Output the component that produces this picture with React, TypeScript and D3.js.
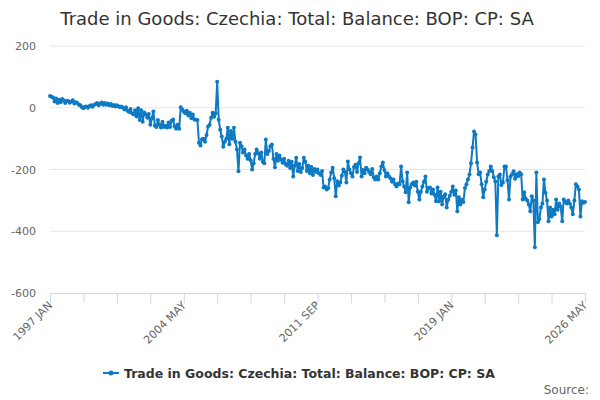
import React from "react";
import * as d3 from "d3";

const title = "Trade in Goods: Czechia: Total: Balance: BOP: CP: SA";
const seriesName = "Trade in Goods: Czechia: Total: Balance: BOP: CP: SA";

const monthNames = ["JAN", "FEB", "MAR", "APR", "MAY", "JUN", "JUL", "AUG", "SEP", "OCT", "NOV", "DEC"];
const firstYear = 1997;

// monthly values, one array per year
const y1997 = [38, 36, 33, 20, 30, 15, 26, 18, 28, 24, 15, 22];
const y1998 = [22, 16, 20, 24, 14, 18, 15, 10, 8, 2, -2, 3];
const y1999 = [4, 0, 6, 8, 3, 10, 12, 15, 8, 13, 17, 10];
const y2000 = [15, 10, 14, 8, 12, 6, 9, 4, 8, 5, 2, 4];
const y2001 = [0, -6, 2, -10, -14, -4, -18, -22, -8, -28, -2, -40];
const y2002 = [-8, -45, -15, -22, -32, -20, -55, -35, -12, -58, -62, -40];
const y2003 = [-55, -64, -45, -62, -58, -64, -48, -62, -42, -38, -60, -68];
const y2004 = [-55, -68, 2, -6, -12, -18, -10, -25, -16, -34, -22, -38];
const y2005 = [-39, -40, -113, -122, -102, -100, -110, -88, -61, -55, -32, -16];
const y2006 = [-29, -18, 84, -39, -71, -93, -126, -110, -100, -65, -118, -75];
const y2007 = [-100, -65, -110, -135, -206, -113, -125, -145, -135, -155, -165, -150];
const y2008 = [-170, -200, -180, -150, -135, -147, -165, -145, -175, -180, -103, -150];
const y2009 = [-140, -125, -119, -165, -193, -150, -172, -155, -168, -178, -165, -182];
const y2010 = [-188, -172, -195, -175, -223, -188, -162, -205, -182, -208, -195, -162];
const y2011 = [-175, -205, -188, -212, -192, -218, -198, -208, -200, -212, -218, -205];
const y2012 = [-258, -255, -265, -261, -232, -210, -194, -228, -287, -238, -252, -242];
const y2013 = [-220, -200, -208, -242, -174, -200, -212, -223, -192, -185, -208, -180];
const y2014 = [-161, -223, -202, -212, -194, -200, -208, -215, -198, -225, -232, -223];
const y2015 = [-232, -212, -190, -177, -202, -223, -212, -222, -228, -240, -232, -248];
const y2016 = [-255, -245, -248, -190, -238, -255, -274, -210, -306, -258, -248, -242];
const y2017 = [-252, -240, -272, -297, -272, -255, -240, -223, -272, -260, -258, -278];
const y2018 = [-265, -282, -303, -258, -303, -272, -313, -288, -280, -323, -298, -285];
const y2019 = [-272, -255, -282, -268, -335, -290, -313, -298, -305, -260, -248, -232];
const y2020 = [-216, -180, -129, -77, -87, -177, -215, -210, -248, -290, -265, -240];
const y2021 = [-216, -205, -190, -205, -225, -239, -413, -223, -216, -250, -242, -190];
const y2022 = [-190, -235, -297, -223, -215, -206, -230, -215, -222, -210, -215, -297];
const y2023 = [-274, -295, -300, -313, -335, -287, -300, -452, -210, -371, -360, -323];
const y2024 = [-310, -232, -275, -300, -368, -323, -352, -330, -345, -297, -330, -310];
const y2025 = [-320, -368, -297, -305, -310, -300, -310, -323, -345, -300, -248, -255];
const y2026 = [-265, -352, -303, -308, -305];

const values = [
  ...y1997, ...y1998, ...y1999, ...y2000, ...y2001, ...y2002, ...y2003, ...y2004,
  ...y2005, ...y2006, ...y2007, ...y2008, ...y2009, ...y2010, ...y2011, ...y2012,
  ...y2013, ...y2014, ...y2015, ...y2016, ...y2017, ...y2018, ...y2019, ...y2020,
  ...y2021, ...y2022, ...y2023, ...y2024, ...y2025, ...y2026,
];

const categories = values.map(
  (_, i) => `${firstYear + Math.floor(i / 12)} ${monthNames[i % 12]}`
);

const yTicks = [200, 0, -200, -400, -600];
const tickStep = 22; // minor ticks
const labelStep = 88; // labelled ticks

const width = 600;
const height = 400;
const left = 50;
const right = 585;
const top = 46;
const bottom = 293;
const color = "#0d7ac3";
const font = "'DejaVu Sans', 'Lucida Grande', Arial, sans-serif";

export default function App() {
  const x = d3.scaleLinear().domain([0, values.length - 1]).range([left, right]);
  const y = d3.scaleLinear().domain([-600, 200]).range([bottom, top]);

  const line = d3
    .line<number>()
    .x((_, i) => x(i))
    .y((d) => y(d));

  const ticks = d3.range(0, values.length, tickStep);
  const labels = d3.range(0, values.length, labelStep);

  return (
    <div style={{ position: "fixed", left: 0, top: 0 }}>
      <svg width={width} height={height} style={{ fontFamily: font, display: "block" }}>
        <rect width={width} height={height} fill="#ffffff" />
        <text x={297} y={25} textAnchor="middle" fontSize={18} fill="#333333">
          {title}
        </text>

        {/* grid + y labels */}
        {yTicks.map((t) => (
          <g key={t}>
            {t !== -600 && (
              <line x1={left} x2={right} y1={y(t)} y2={y(t)} stroke="#e6e6e6" strokeWidth={1} />
            )}
            <text x={36} y={y(t) + 4} textAnchor="end" fontSize={11} fill="#666666">
              {t}
            </text>
          </g>
        ))}

        {/* x axis */}
        <line x1={left} x2={right} y1={bottom + 0.5} y2={bottom + 0.5} stroke="#ccd6eb" />
        {ticks.map((t) => (
          <line
            key={t}
            x1={x(t) + 0.5}
            x2={x(t) + 0.5}
            y1={bottom}
            y2={bottom + 10}
            stroke="#ccd6eb"
          />
        ))}
        {labels.map((t) => (
          <text
            key={t}
            transform={`translate(${x(t) + 3},${bottom + 13}) rotate(-45)`}
            textAnchor="end"
            fontSize={11}
            fill="#666666"
          >
            {categories[t]}
          </text>
        ))}

        {/* series */}
        <path d={line(values) ?? ""} fill="none" stroke={color} strokeWidth={2} strokeLinejoin="round" />
        {values.map((v, i) => (
          <circle key={i} cx={x(i)} cy={y(v)} r={2} fill={color} />
        ))}

        {/* legend */}
        <line x1={103} x2={119} y1={373} y2={373} stroke={color} strokeWidth={2} />
        <circle cx={111} cy={373} r={2.5} fill={color} />
        <text x={124} y={378} fontSize={12.5} fontWeight="bold" fill="#333333">
          {seriesName}
        </text>

        <text x={589} y={394} textAnchor="end" fontSize={12} fill="#666666">
          Source:
        </text>
      </svg>
    </div>
  );
}
